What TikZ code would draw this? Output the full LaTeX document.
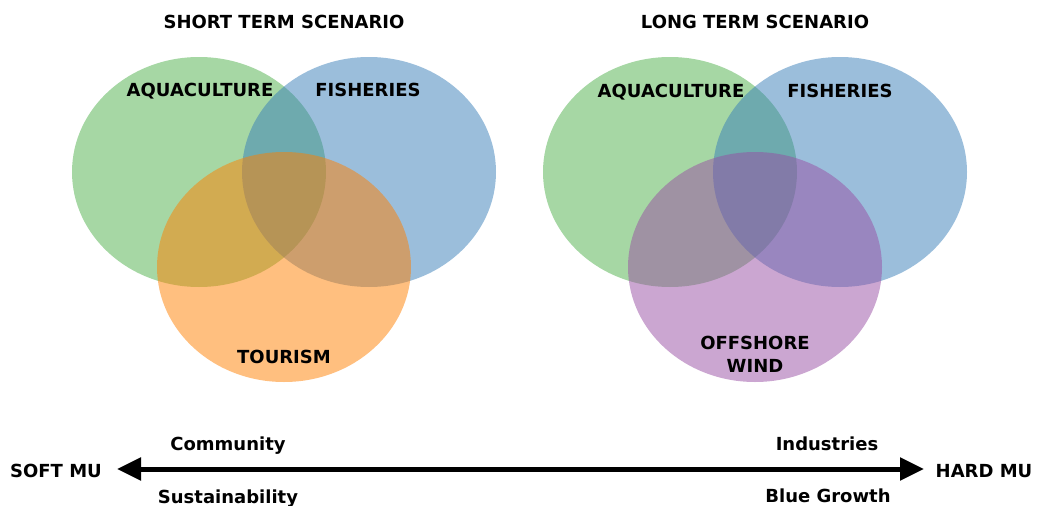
\documentclass[tikz,border=0pt]{standalone}
\usepackage{fontspec}
\setmainfont{DejaVu Sans}
\usetikzlibrary{arrows.meta}
\definecolor{setgreen}{RGB}{77,175,74}
\definecolor{setblue}{RGB}{55,126,184}
\definecolor{setorange}{RGB}{255,127,0}
\definecolor{setpurple}{RGB}{152,78,163}
\tikzset{
  venn/.style={fill opacity=0.5, draw=none},
  lbl/.style={anchor=base, inner sep=0pt, font=\fontsize{18}{21}\selectfont\bfseries},
}
\begin{document}
\begin{tikzpicture}[x=1pt,y=-1pt]
\useasboundingbox (0,0) rectangle (1037,506);
% left diagram
\fill[venn, setgreen] (199,172) ellipse [x radius=127, y radius=115];
\fill[venn, setblue] (369,172) ellipse [x radius=127, y radius=115];
\fill[venn, setorange] (284,267) ellipse [x radius=127, y radius=115];
% right diagram
\fill[venn, setgreen] (670,172) ellipse [x radius=127, y radius=115];
\fill[venn, setblue] (840,172) ellipse [x radius=127, y radius=115];
\fill[venn, setpurple] (755,267) ellipse [x radius=127, y radius=115];
% titles
\node[lbl] (t1) at (284,28) {SHORT TERM SCENARIO};
\node[lbl] (t2) at (755,28) {LONG TERM SCENARIO};
% set labels
\node[lbl] (a1) at (200,96) {AQUACULTURE};
\node[lbl] (f1) at (368,96) {FISHERIES};
\node[lbl] (tour) at (284,363) {TOURISM};
\node[lbl] (a2) at (671,97) {AQUACULTURE};
\node[lbl] (f2) at (840,97) {FISHERIES};
\node[lbl] (ow1) at (755,349) {OFFSHORE};
\node[lbl] (ow2) at (755,372) {WIND};
% axis
\node[lbl] (soft) at (56,477) {SOFT MU};
\node[lbl] (hard) at (984,477) {HARD MU};
\coordinate (l) at (117,469);
\coordinate (r) at (924,469);
\draw[line width=5pt, {Triangle[length=24pt,width=22pt]}-{Triangle[length=24pt,width=22pt]}] (l) -- (r);
\node[lbl] (comm) at (228,450) {Community};
\node[lbl] (sust) at (228,503) {Sustainability};
\node[lbl] (ind) at (827,450) {Industries};
\node[lbl] (blue) at (828,502) {Blue Growth};
\end{tikzpicture}
\end{document}
